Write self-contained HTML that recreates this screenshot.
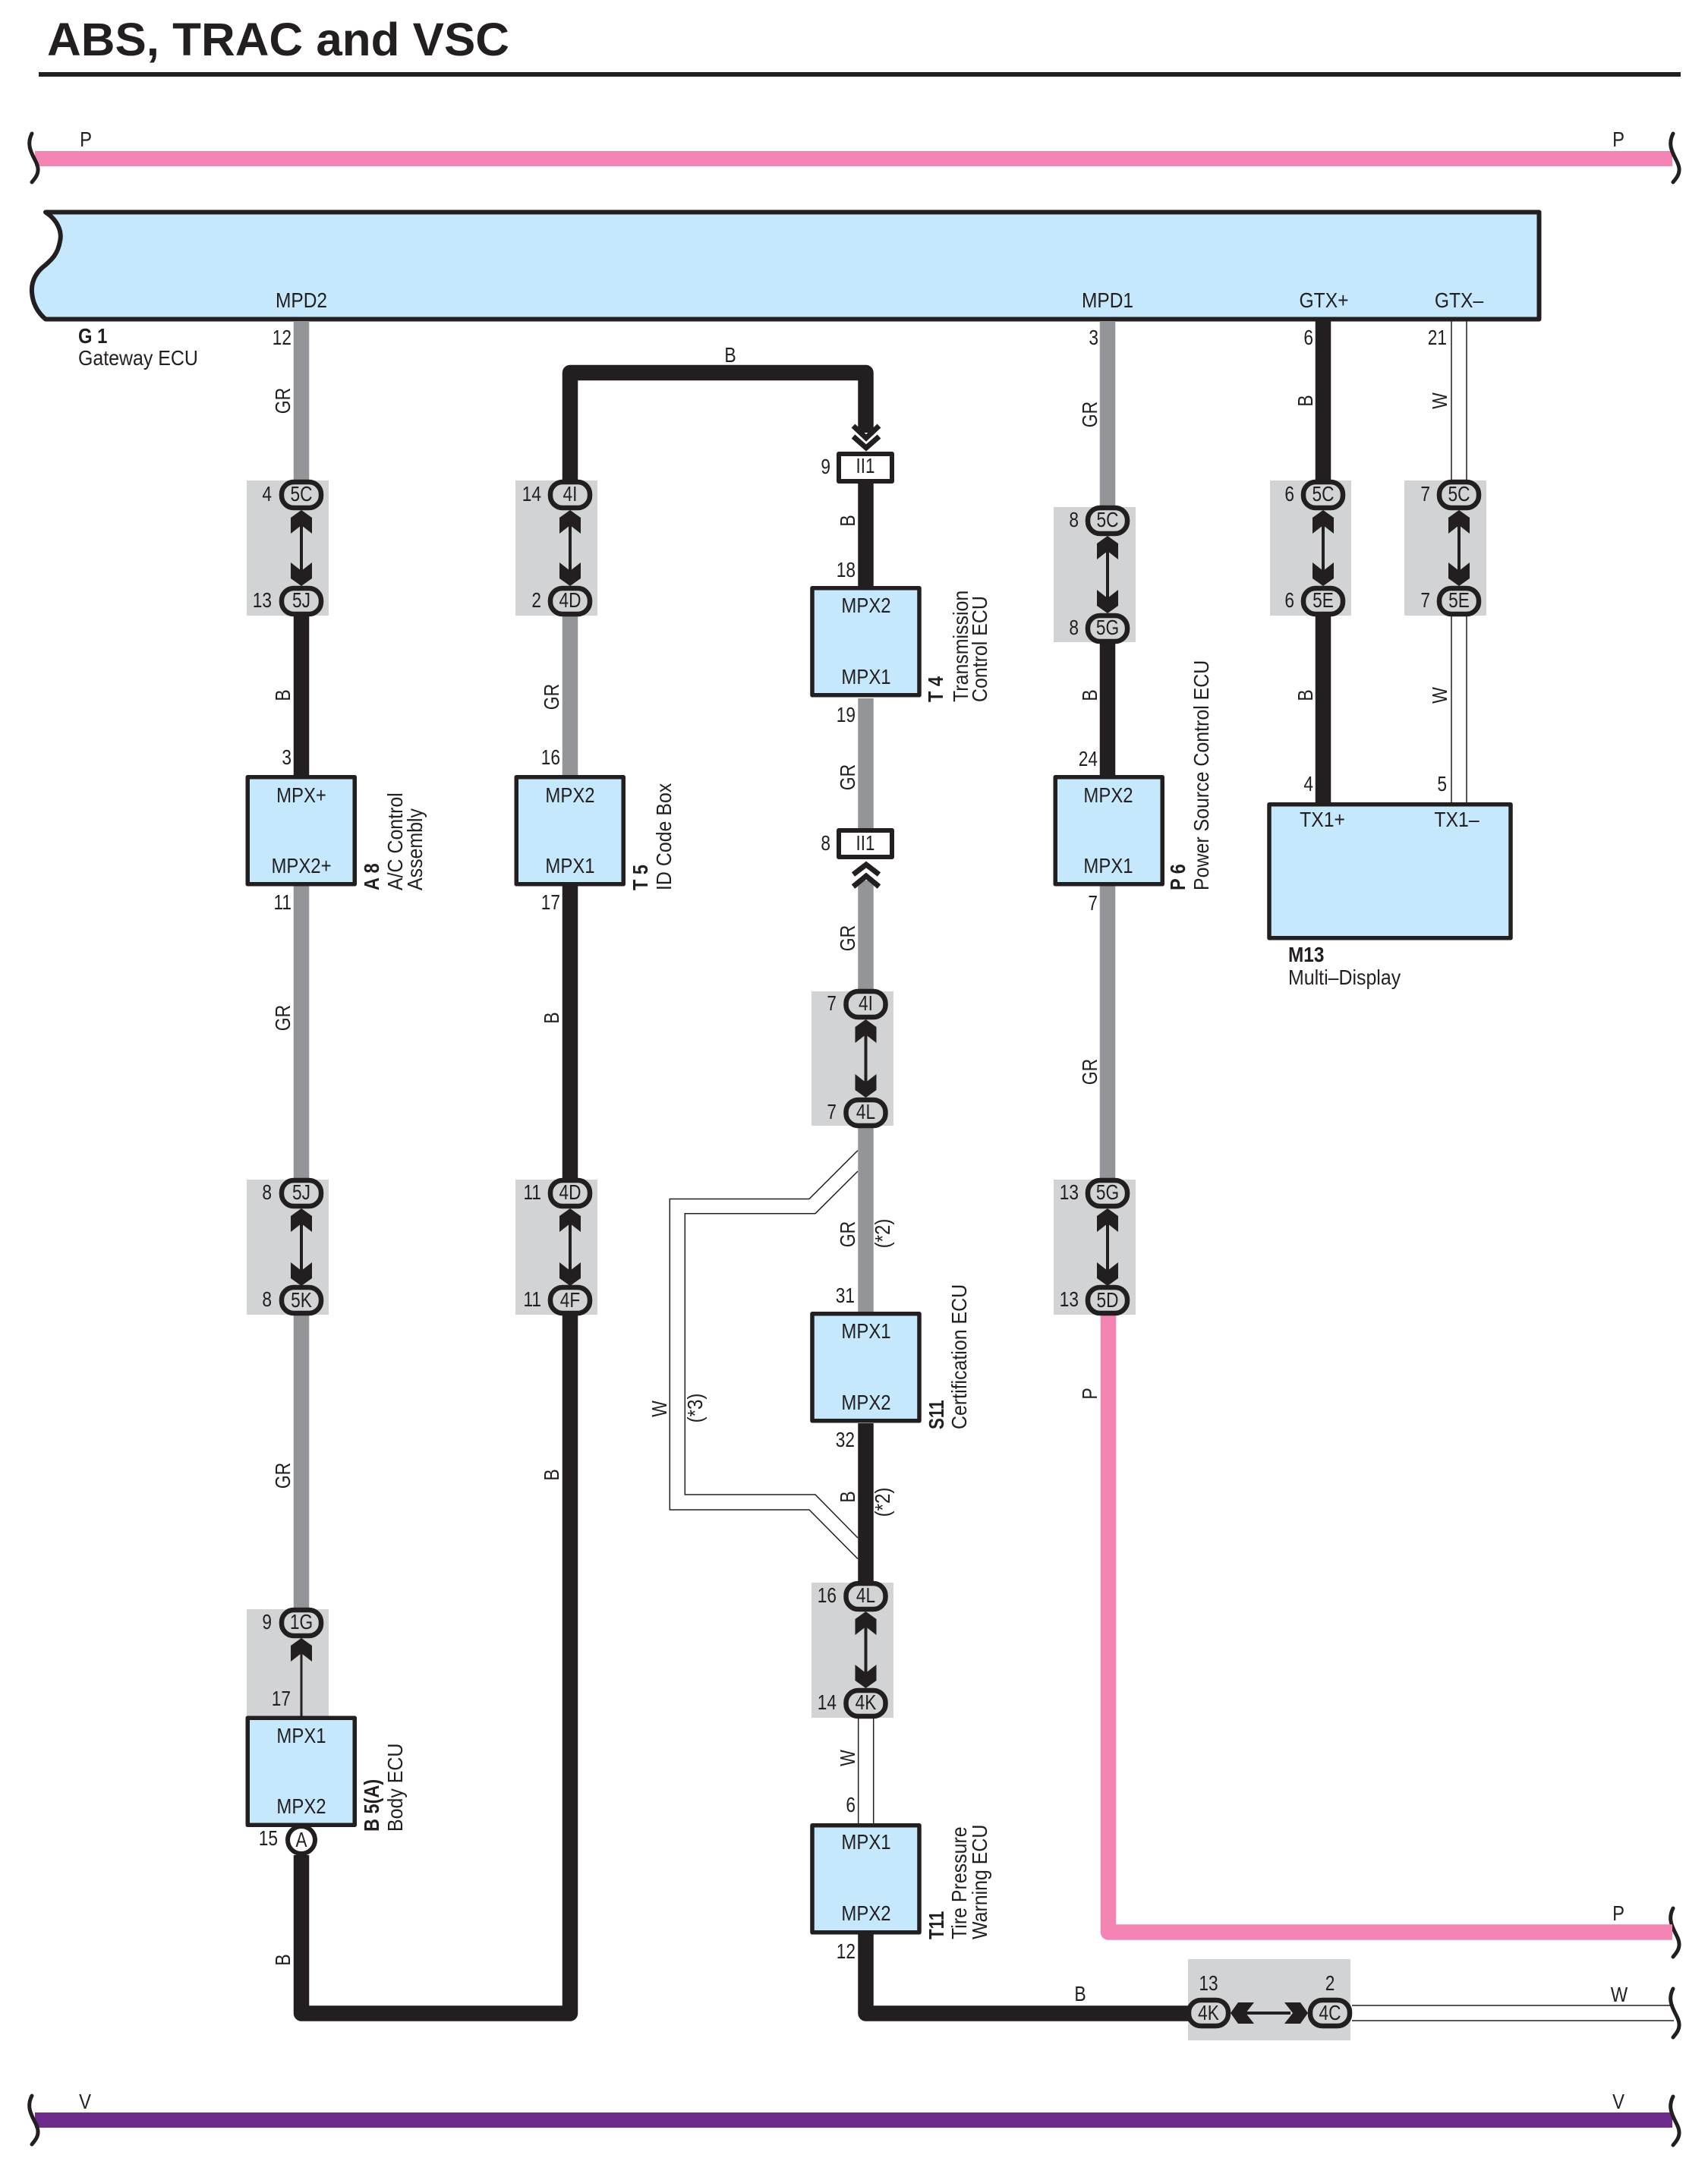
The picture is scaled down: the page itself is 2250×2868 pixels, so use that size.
<!DOCTYPE html>
<html><head><meta charset="utf-8"><style>
html,body{margin:0;padding:0;background:#fff}
svg{display:block}
text{font-family:"Liberation Sans",sans-serif;font-size:28px;fill:#231f20}
.m{text-anchor:middle}.e{text-anchor:end}.b{font-weight:bold}
</style></head><body>
<svg width="2250" height="2868" viewBox="0 0 2250 2868" xmlns="http://www.w3.org/2000/svg">
<defs>
<path id="sq" d="M7 1C-4 22 16 36 15 49C15 56 10 61 7 65" fill="none" stroke="#231f20" stroke-width="5" stroke-linecap="round"/>
<rect id="ov" x="-26" y="-17" width="52" height="34" rx="16" fill="#d1d3d4" stroke="#231f20" stroke-width="6.500"/>
<polygon id="au" points="0,0 14,10 14,31 0,20 -14,31 -14,10" fill="#231f20"/>
<rect id="bx" x="0" y="0" width="141" height="141" fill="#c5e8fc" stroke="#231f20" stroke-width="5.500" stroke-linejoin="round"/>
</defs>
<rect width="2250" height="2868" fill="#fff"/>
<text class="b" x="62" y="73" style="font-size:61px" textLength="609" lengthAdjust="spacingAndGlyphs">ABS, TRAC and VSC</text>
<rect x="51" y="95" width="2163" height="6" fill="#231f20"/>

<!-- bus bars -->
<rect x="46" y="199" width="2157" height="20" fill="#f384b4"/>
<rect x="46" y="2783" width="2157" height="20" fill="#6d2c8c"/>
<use href="#sq" x="35" y="175"/><use href="#sq" x="35" y="2760"/>
<use href="#sq" x="2197" y="175"/><use href="#sq" x="2197" y="2513"/><use href="#sq" x="2197" y="2619"/><use href="#sq" x="2197" y="2761"/>
<text class="m" transform="translate(113,193)scale(.85,1)">P</text>
<text class="m" transform="translate(2132,193)scale(.85,1)">P</text>
<text class="m" transform="translate(112,2778)scale(.85,1)">V</text>
<text class="m" transform="translate(2132,2778)scale(.85,1)">V</text>
<text class="m" transform="translate(2132,2530)scale(.85,1)">P</text>
<text class="m" transform="translate(2133,2637)scale(.85,1)">W</text>

<!-- gateway ECU -->
<path d="M60 279.500H2027.500V420.500H60C50 412 43 400 42 385C41 370 48 358 60 349C68 342 76 335 79 318C82 305 76 290 60 279.500Z" fill="#c5e8fc" stroke="#231f20" stroke-width="6" stroke-linejoin="round"/>
<text class="m" transform="translate(397,405)scale(.875,1)">MPD2</text>
<text class="m" transform="translate(1459,405)scale(.875,1)">MPD1</text>
<text class="m" transform="translate(1744,405)scale(.88,1)">GTX+</text>
<text class="m" transform="translate(1922,405)scale(.88,1)">GTX–</text>
<text class="b" transform="translate(103,452)scale(.85,1)">G 1</text>
<text transform="translate(103,481)scale(.89,1)">Gateway ECU</text>

<!-- grey connector panels -->
<g fill="#d1d3d4">
<rect x="325" y="633" width="108" height="178"/>
<rect x="325" y="1554" width="108" height="178"/>
<rect x="325" y="2120" width="108" height="141"/>
<rect x="679" y="633" width="108" height="178"/>
<rect x="679" y="1554" width="108" height="178"/>
<rect x="1069" y="1306" width="108" height="177"/>
<rect x="1069" y="2085" width="108" height="178"/>
<rect x="1388" y="668" width="108" height="178"/>
<rect x="1388" y="1554" width="108" height="178"/>
<rect x="1673" y="633" width="107" height="178"/>
<rect x="1850" y="633" width="108" height="178"/>
<rect x="1565" y="2581" width="214" height="107"/>
</g>

<!-- white (W) wires -->
<g fill="none" stroke="#231f20" stroke-width="1.500">
<path d="M1130 1515.600L1066 1579.500H882.300V1989H1066L1130 2053.600"/>
<path d="M1130 1543L1074 1598.700H902.300V1969H1074L1130 2026"/>
<path d="M1912 423V633M1932 423V633M1912 811V1057M1932 811V1057"/>
<path d="M1130.700 2263V2402M1150.700 2263V2402"/>
<path d="M1781 2642H2205M1781 2662H2205"/>
</g>

<!-- grey wires -->
<g fill="none" stroke="#939598" stroke-width="20.500" stroke-linejoin="round">
<path d="M397 423V635M397 1167V1555M397 1732V2121"/>
<path d="M751 811V1021"/>
<path d="M1140.500 920V1092M1140.500 1160V1310M1140.500 1483V1728"/>
<path d="M1459 423V670M1459 1167V1555"/>
</g>
<!-- black wires -->
<g fill="none" stroke="#231f20" stroke-width="20.500" stroke-linejoin="round">
<path d="M397 811V1021"/>
<path d="M751 635V491H1140.500V570"/>
<path d="M397 2444V2652.500H751V1730"/>
<path d="M751 1167V1555"/>
<path d="M1140.500 636V772"/>
<path d="M1140.500 1875V2087"/>
<path d="M1140.500 2548V2652.500H1570"/>
<path d="M1459 848V1021"/>
<path d="M1743 423V635M1743 811V1057"/>
</g>
<!-- pink wire -->
<path d="M1460 1732V2545.500H2203" fill="none" stroke="#f384b4" stroke-width="20.500" stroke-linejoin="round"/>

<!-- splice chevrons and II1 -->
<g fill="none" stroke="#231f20" stroke-width="7">
<path d="M1124 561L1141 577L1158 561M1124 575L1141 590L1158 575"/>
<path d="M1124 1152L1141 1139L1158 1152M1124 1168L1141 1154L1158 1168"/>
</g>
<rect x="1105" y="598" width="70" height="36" fill="#fff" stroke="#231f20" stroke-width="6" stroke-linejoin="round"/>
<rect x="1105" y="1094" width="70" height="35" fill="#fff" stroke="#231f20" stroke-width="6" stroke-linejoin="round"/>
<text class="m" transform="translate(1140,623)scale(.8,1)">II1</text>
<text class="m" transform="translate(1140,1120)scale(.8,1)">II1</text>

<!-- arrows -->
<g fill="#231f20">
<rect x="395" y="690" width="4" height="65"/><rect x="749" y="690" width="4" height="65"/>
<rect x="395" y="1610" width="4" height="65"/><rect x="749" y="1610" width="4" height="65"/>
<rect x="395.500" y="2170" width="3" height="92"/>
<rect x="1138.500" y="1360" width="4" height="70"/><rect x="1138.500" y="2140" width="4" height="70"/>
<rect x="1457" y="725" width="4" height="70"/><rect x="1457" y="1610" width="4" height="65"/>
<rect x="1741" y="690" width="4" height="65"/><rect x="1920" y="690" width="4" height="65"/>
<rect x="1640" y="2650" width="60" height="4"/>
</g>
<use href="#au" x="397" y="672"/><use href="#au" transform="translate(397,772)scale(1,-1)"/>
<use href="#au" x="751" y="672"/><use href="#au" transform="translate(751,772)scale(1,-1)"/>
<use href="#au" x="397" y="1592"/><use href="#au" transform="translate(397,1694)scale(1,-1)"/>
<use href="#au" x="751" y="1592"/><use href="#au" transform="translate(751,1694)scale(1,-1)"/>
<use href="#au" x="397" y="2158"/>
<use href="#au" x="1140.500" y="1343"/><use href="#au" transform="translate(1140.500,1446)scale(1,-1)"/>
<use href="#au" x="1140.500" y="2123"/><use href="#au" transform="translate(1140.500,2224)scale(1,-1)"/>
<use href="#au" x="1459" y="706"/><use href="#au" transform="translate(1459,808)scale(1,-1)"/>
<use href="#au" x="1459" y="1592"/><use href="#au" transform="translate(1459,1694)scale(1,-1)"/>
<use href="#au" x="1743" y="672"/><use href="#au" transform="translate(1743,772)scale(1,-1)"/>
<use href="#au" x="1922" y="672"/><use href="#au" transform="translate(1922,772)scale(1,-1)"/>
<use href="#au" transform="translate(1621,2652)rotate(-90)"/>
<use href="#au" transform="translate(1723,2652)rotate(90)"/>

<!-- ovals -->
<use href="#ov" x="397" y="652"/><use href="#ov" x="397" y="792"/>
<use href="#ov" x="397" y="1572"/><use href="#ov" x="397" y="1713"/>
<use href="#ov" x="397" y="2138"/>
<use href="#ov" x="751" y="652"/><use href="#ov" x="751" y="792"/>
<use href="#ov" x="751" y="1572"/><use href="#ov" x="751" y="1713"/>
<use href="#ov" x="1140.500" y="1323"/><use href="#ov" x="1140.500" y="1466"/>
<use href="#ov" x="1140.500" y="2103"/><use href="#ov" x="1140.500" y="2244"/>
<use href="#ov" x="1459" y="686"/><use href="#ov" x="1459" y="828"/>
<use href="#ov" x="1459" y="1572"/><use href="#ov" x="1459" y="1713"/>
<use href="#ov" x="1743" y="652"/><use href="#ov" x="1743" y="792"/>
<use href="#ov" x="1922" y="652"/><use href="#ov" x="1922" y="792"/>
<use href="#ov" x="1592" y="2652"/><use href="#ov" x="1752" y="2652"/>

<g text-anchor="middle">
<text transform="translate(397,660)scale(.81,1)">5C</text><text transform="translate(397,800)scale(.81,1)">5J</text>
<text transform="translate(397,1580)scale(.81,1)">5J</text><text transform="translate(397,1722)scale(.81,1)">5K</text>
<text transform="translate(397,2146)scale(.81,1)">1G</text>
<text transform="translate(751,660)scale(.81,1)">4I</text><text transform="translate(751,800)scale(.81,1)">4D</text>
<text transform="translate(751,1580)scale(.81,1)">4D</text><text transform="translate(751,1722)scale(.81,1)">4F</text>
<text transform="translate(1140.500,1331)scale(.81,1)">4I</text><text transform="translate(1140.500,1474)scale(.81,1)">4L</text>
<text transform="translate(1140.500,2111)scale(.81,1)">4L</text><text transform="translate(1140.500,2252)scale(.81,1)">4K</text>
<text transform="translate(1459,694)scale(.81,1)">5C</text><text transform="translate(1459,836)scale(.81,1)">5G</text>
<text transform="translate(1459,1580)scale(.81,1)">5G</text><text transform="translate(1459,1722)scale(.81,1)">5D</text>
<text transform="translate(1743,660)scale(.81,1)">5C</text><text transform="translate(1743,800)scale(.81,1)">5E</text>
<text transform="translate(1922,660)scale(.81,1)">5C</text><text transform="translate(1922,800)scale(.81,1)">5E</text>
<text transform="translate(1592,2661)scale(.81,1)">4K</text><text transform="translate(1752,2661)scale(.81,1)">4C</text>
<text transform="translate(1592,2622)scale(.81,1)">13</text><text transform="translate(1752,2622)scale(.81,1)">2</text>
</g>

<!-- component boxes -->
<use href="#bx" x="326.250" y="1023.750"/>
<use href="#bx" x="680.250" y="1023.750"/>
<use href="#bx" x="326.250" y="2263.250"/>
<use href="#bx" x="1070" y="774.750"/>
<use href="#bx" x="1070" y="1730.750"/>
<use href="#bx" x="1070" y="2404.750"/>
<use href="#bx" x="1390.250" y="1023.750"/>
<rect x="1672" y="1059.750" width="318" height="176" fill="#c5e8fc" stroke="#231f20" stroke-width="5.500" stroke-linejoin="round"/>
<circle cx="397" cy="2424" r="18" fill="#fff" stroke="#231f20" stroke-width="6"/>
<text class="m" transform="translate(397,2433)scale(.8,1)">A</text>

<g text-anchor="middle">
<text transform="translate(397,1057)scale(.855,1)">MPX+</text><text transform="translate(397,1150)scale(.855,1)">MPX2+</text>
<text transform="translate(751,1057)scale(.855,1)">MPX2</text><text transform="translate(751,1150)scale(.855,1)">MPX1</text>
<text transform="translate(397,2296)scale(.855,1)">MPX1</text><text transform="translate(397,2389)scale(.855,1)">MPX2</text>
<text transform="translate(1141,807)scale(.855,1)">MPX2</text><text transform="translate(1141,901)scale(.855,1)">MPX1</text>
<text transform="translate(1141,1763)scale(.855,1)">MPX1</text><text transform="translate(1141,1857)scale(.855,1)">MPX2</text>
<text transform="translate(1141,2436)scale(.855,1)">MPX1</text><text transform="translate(1141,2530)scale(.855,1)">MPX2</text>
<text transform="translate(1460,1057)scale(.855,1)">MPX2</text><text transform="translate(1460,1150)scale(.855,1)">MPX1</text>
<text transform="translate(1742,1089)scale(.885,1)">TX1+</text><text transform="translate(1919,1089)scale(.885,1)">TX1–</text>
</g>

<!-- side labels -->
<text class="b" transform="translate(499,1173)rotate(-90)scale(.84,1)">A 8</text>
<text transform="translate(530,1173)rotate(-90)scale(.89,1)">A/C Control</text>
<text transform="translate(556,1173)rotate(-90)scale(.89,1)">Assembly</text>
<text class="b" transform="translate(853,1173)rotate(-90)scale(.84,1)">T 5</text>
<text transform="translate(884,1173)rotate(-90)scale(.89,1)">ID Code Box</text>
<text class="b" transform="translate(499,2413)rotate(-90)scale(.84,1)">B 5(A)</text>
<text transform="translate(530,2413)rotate(-90)scale(.89,1)">Body ECU</text>
<text class="b" transform="translate(1242,925)rotate(-90)scale(.84,1)">T 4</text>
<text transform="translate(1275,925)rotate(-90)scale(.89,1)">Transmission</text>
<text transform="translate(1300,925)rotate(-90)scale(.89,1)">Control ECU</text>
<text class="b" transform="translate(1243,1883)rotate(-90)scale(.8,1)">S11</text>
<text transform="translate(1273,1883)rotate(-90)scale(.89,1)">Certification ECU</text>
<text class="b" transform="translate(1243,2555)rotate(-90)scale(.8,1)">T11</text>
<text transform="translate(1273,2555)rotate(-90)scale(.89,1)">Tire Pressure</text>
<text transform="translate(1300,2555)rotate(-90)scale(.89,1)">Warning ECU</text>
<text class="b" transform="translate(1561,1173)rotate(-90)scale(.84,1)">P 6</text>
<text transform="translate(1592,1173)rotate(-90)scale(.89,1)">Power Source Control ECU</text>
<text class="b" transform="translate(1697,1267)scale(.87,1)">M13</text>
<text transform="translate(1697,1297)scale(.89,1)">Multi–Display</text>

<!-- pin numbers -->
<g text-anchor="end">
<text transform="translate(384,454)scale(.81,1)">12</text>
<text transform="translate(358,660)scale(.81,1)">4</text>
<text transform="translate(358,800)scale(.81,1)">13</text>
<text transform="translate(384,1007)scale(.81,1)">3</text>
<text transform="translate(384,1198)scale(.81,1)">11</text>
<text transform="translate(358,1580)scale(.81,1)">8</text>
<text transform="translate(358,1721)scale(.81,1)">8</text>
<text transform="translate(358,2146)scale(.81,1)">9</text>
<text transform="translate(383,2247)scale(.81,1)">17</text>
<text transform="translate(366,2431)scale(.81,1)">15</text>
<text transform="translate(713,660)scale(.81,1)">14</text>
<text transform="translate(713,800)scale(.81,1)">2</text>
<text transform="translate(738,1007)scale(.81,1)">16</text>
<text transform="translate(738,1198)scale(.81,1)">17</text>
<text transform="translate(713,1580)scale(.81,1)">11</text>
<text transform="translate(713,1721)scale(.81,1)">11</text>
<text transform="translate(1094,624)scale(.81,1)">9</text>
<text transform="translate(1127,760)scale(.81,1)">18</text>
<text transform="translate(1127,951)scale(.81,1)">19</text>
<text transform="translate(1094,1120)scale(.81,1)">8</text>
<text transform="translate(1102,1331)scale(.81,1)">7</text>
<text transform="translate(1102,1474)scale(.81,1)">7</text>
<text transform="translate(1126,1716)scale(.81,1)">31</text>
<text transform="translate(1126,1906)scale(.81,1)">32</text>
<text transform="translate(1102,2111)scale(.81,1)">16</text>
<text transform="translate(1102,2252)scale(.81,1)">14</text>
<text transform="translate(1127,2387)scale(.81,1)">6</text>
<text transform="translate(1127,2580)scale(.81,1)">12</text>
<text transform="translate(1447,454)scale(.81,1)">3</text>
<text transform="translate(1421,694)scale(.81,1)">8</text>
<text transform="translate(1421,836)scale(.81,1)">8</text>
<text transform="translate(1446,1009)scale(.81,1)">24</text>
<text transform="translate(1446,1199)scale(.81,1)">7</text>
<text transform="translate(1421,1580)scale(.81,1)">13</text>
<text transform="translate(1421,1721)scale(.81,1)">13</text>
<text transform="translate(1730,454)scale(.81,1)">6</text>
<text transform="translate(1705,660)scale(.81,1)">6</text>
<text transform="translate(1705,800)scale(.81,1)">6</text>
<text transform="translate(1730,1042)scale(.81,1)">4</text>
<text transform="translate(1906,454)scale(.81,1)">21</text>
<text transform="translate(1884,660)scale(.81,1)">7</text>
<text transform="translate(1884,800)scale(.81,1)">7</text>
<text transform="translate(1906,1042)scale(.81,1)">5</text>
</g>

<!-- wire colour labels -->
<g text-anchor="middle">
<text transform="translate(382,528)rotate(-90)scale(.82,1)">GR</text>
<text transform="translate(382,916)rotate(-90)scale(.82,1)">B</text>
<text transform="translate(382,1341)rotate(-90)scale(.82,1)">GR</text>
<text transform="translate(382,1944)rotate(-90)scale(.82,1)">GR</text>
<text transform="translate(382,2582)rotate(-90)scale(.82,1)">B</text>
<text transform="translate(736,918)rotate(-90)scale(.82,1)">GR</text>
<text transform="translate(736,1341)rotate(-90)scale(.82,1)">B</text>
<text transform="translate(736,1943)rotate(-90)scale(.82,1)">B</text>
<text transform="translate(962,477)scale(.82,1)">B</text>
<text transform="translate(1126,686)rotate(-90)scale(.82,1)">B</text>
<text transform="translate(1126,1024)rotate(-90)scale(.82,1)">GR</text>
<text transform="translate(1126,1236)rotate(-90)scale(.82,1)">GR</text>
<text transform="translate(1126,1626)rotate(-90)scale(.82,1)">GR</text>
<text transform="translate(1172,1625)rotate(-90)scale(.86,1)">(*2)</text>
<text transform="translate(1126,1972)rotate(-90)scale(.82,1)">B</text>
<text transform="translate(1172,1979)rotate(-90)scale(.86,1)">(*2)</text>
<text transform="translate(878,1856)rotate(-90)scale(.82,1)">W</text>
<text transform="translate(925,1855)rotate(-90)scale(.86,1)">(*3)</text>
<text transform="translate(1126,2316)rotate(-90)scale(.82,1)">W</text>
<text transform="translate(1423,2636)scale(.82,1)">B</text>
<text transform="translate(1445,546)rotate(-90)scale(.82,1)">GR</text>
<text transform="translate(1445,916)rotate(-90)scale(.82,1)">B</text>
<text transform="translate(1445,1412)rotate(-90)scale(.82,1)">GR</text>
<text transform="translate(1445,1836)rotate(-90)scale(.82,1)">P</text>
<text transform="translate(1729,528)rotate(-90)scale(.82,1)">B</text>
<text transform="translate(1729,916)rotate(-90)scale(.82,1)">B</text>
<text transform="translate(1906,528)rotate(-90)scale(.82,1)">W</text>
<text transform="translate(1906,916)rotate(-90)scale(.82,1)">W</text>
</g>
</svg>
</body></html>
